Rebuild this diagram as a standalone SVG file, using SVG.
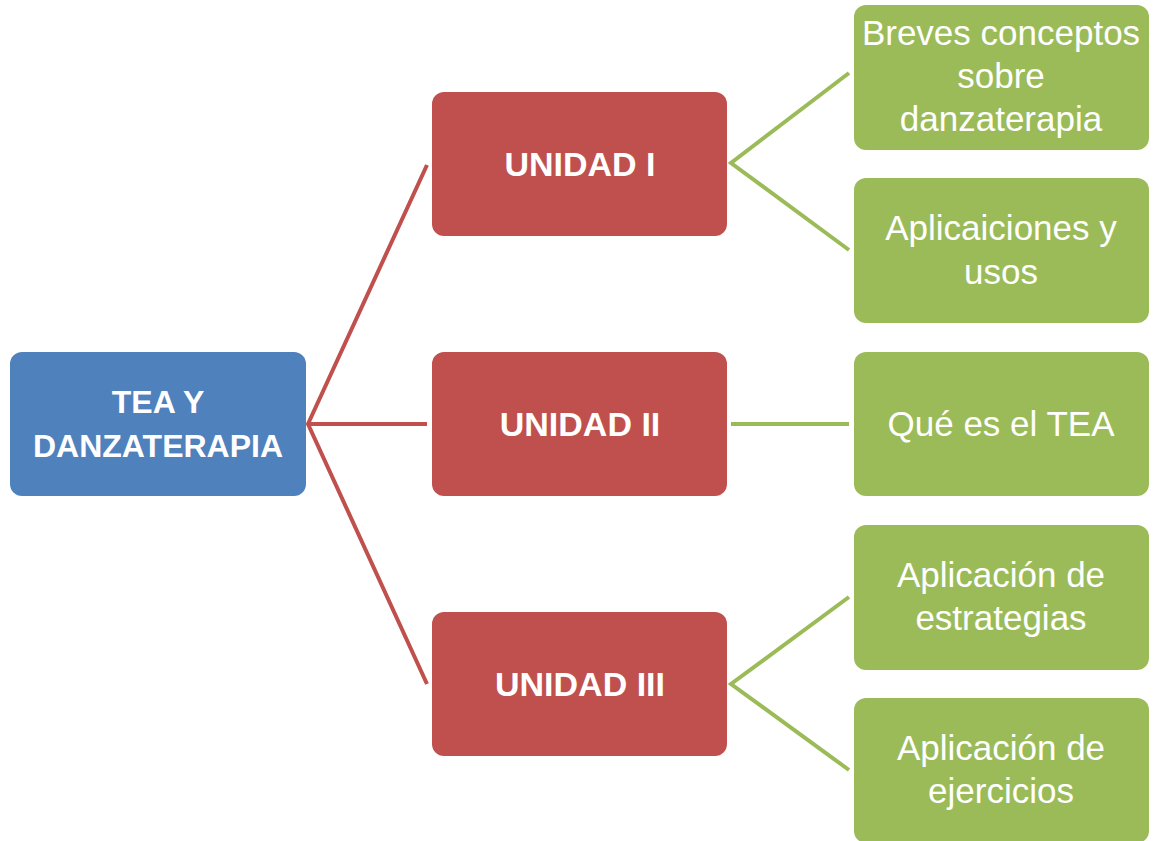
<svg xmlns="http://www.w3.org/2000/svg" width="1158" height="841" viewBox="0 0 1158 841">
<style>
.blue{fill:#4F81BD}
.red{fill:#C0504D}
.green{fill:#9BBB59}
.tb{font-family:"Liberation Sans",Arial,sans-serif;font-weight:bold;fill:#fff;text-anchor:middle}
.tg{font-family:"Liberation Sans",Arial,sans-serif;fill:#fff;text-anchor:middle;font-size:35px}
.cr{stroke:#C0504D;stroke-width:4;fill:none}
.cg{stroke:#9BBB59;stroke-width:4;fill:none}
</style>
<rect width="1158" height="841" fill="#fff"/>
<g id="connectors">
<path class="cr" d="M427,165 L308,424 L427,684 M308,424 L427,424"/>
<path class="cg" d="M849,73 L731,163 L849,250"/>
<path class="cg" d="M731,424 L849,424"/>
<path class="cg" d="M849,597 L731,684 L849,770"/>
</g>
<g id="root">
<rect class="blue" x="10" y="352" width="296" height="144" rx="12"/>
<text class="tb" font-size="32" x="158" y="413">TEA Y</text>
<text class="tb" font-size="32" x="158" y="457">DANZATERAPIA</text>
</g>
<g id="u1">
<rect class="red" x="432" y="92" width="295" height="144" rx="12"/>
<text class="tb" font-size="34" x="580" y="176">UNIDAD I</text>
</g>
<g id="u2">
<rect class="red" x="432" y="352" width="295" height="144" rx="12"/>
<text class="tb" font-size="34" x="580" y="436">UNIDAD II</text>
</g>
<g id="u3">
<rect class="red" x="432" y="612" width="295" height="144" rx="12"/>
<text class="tb" font-size="34" x="580" y="696">UNIDAD III</text>
</g>
<g id="g1">
<rect class="green" x="854" y="5" width="295" height="145" rx="12"/>
<text class="tg" x="1001" y="45">Breves conceptos</text>
<text class="tg" x="1001" y="88">sobre</text>
<text class="tg" x="1001" y="131">danzaterapia</text>
</g>
<g id="g2">
<rect class="green" x="854" y="178" width="295" height="145" rx="12"/>
<text class="tg" x="1001" y="240">Aplicaiciones y</text>
<text class="tg" x="1001" y="284">usos</text>
</g>
<g id="g3">
<rect class="green" x="854" y="352" width="295" height="144" rx="12"/>
<text class="tg" x="1001" y="436">Qué es el TEA</text>
</g>
<g id="g4">
<rect class="green" x="854" y="525" width="295" height="145" rx="12"/>
<text class="tg" x="1001" y="587">Aplicación de</text>
<text class="tg" x="1001" y="630">estrategias</text>
</g>
<g id="g5">
<rect class="green" x="854" y="698" width="295" height="145" rx="12"/>
<text class="tg" x="1001" y="760">Aplicación de</text>
<text class="tg" x="1001" y="803">ejercicios</text>
</g>
</svg>
